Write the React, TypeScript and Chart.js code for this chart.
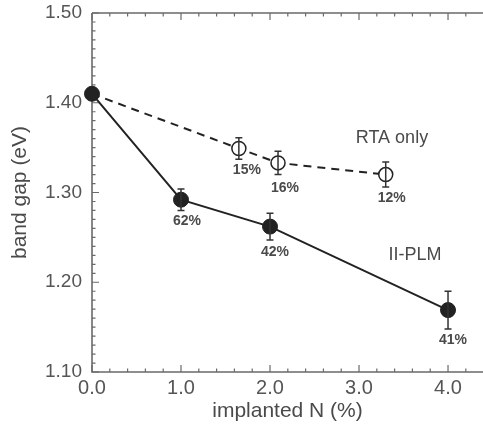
import React, { useEffect, useRef } from "react";
import { Chart, registerables } from "chart.js";

Chart.register(...registerables);

// ---- data ----
const plmN = [0, 1.0, 2.0, 4.0];
const plmGap = [1.41, 1.292, 1.262, 1.169];
const plmErr = [0, 0.012, 0.015, 0.021];
const plmPct = ["", "62%", "42%", "41%"];

const rtaN = [0, 1.65, 2.09, 3.3];
const rtaGap = [1.41, 1.349, 1.333, 1.32];
const rtaErr = [0, 0.012, 0.013, 0.014];
const rtaPct = ["", "15%", "16%", "12%"];

const xTickValues = [0, 1, 2, 3, 4];
const yTickValues = [1.1, 1.2, 1.3, 1.4, 1.5];

const seriesNames = ["II-PLM", "RTA only"];
const seriesNameAt = [
  [3.63, 1.23],
  [3.37, 1.361],
];

// ---- styles ----
const plmLabelOffsets = [
  [0, 0],
  [6, 21],
  [5, 26],
  [5, 30],
];
const rtaLabelOffsets = [
  [0, 0],
  [8, 22],
  [7, 25],
  [6, 24],
];

const FONT = "'Liberation Sans', Arial, Helvetica, sans-serif";
const AXIS_COLOR = "#6a6a6a";
const TEXT_COLOR = "#4a4a4a";
const MARK_COLOR = "#222222";

const zeroPad = (s: any) => {
  s.paddingLeft = 0;
  s.paddingRight = 0;
  s.paddingTop = 0;
  s.paddingBottom = 0;
};

const framePlugin = {
  id: "frame",
  beforeDatasetsDraw(chart: any) {
    const { ctx, chartArea, scales } = chart;
    const { left, right, top, bottom } = chartArea;
    const xs = scales.x;
    const ys = scales.y;
    ctx.save();
    ctx.strokeStyle = AXIS_COLOR;
    ctx.lineWidth = 1.6;
    ctx.beginPath();
    ctx.moveTo(left, top);
    ctx.lineTo(right + 2, top);
    ctx.moveTo(left, top);
    ctx.lineTo(left, bottom);
    ctx.lineTo(right + 2, bottom);
    ctx.stroke();

    ctx.lineWidth = 1.2;
    ctx.beginPath();
    for (let i = 0; i <= 22; i++) {
      const v = i * 0.2;
      if (v > xs.max) break;
      const px = xs.getPixelForValue(v);
      const len = i % 5 === 0 ? 7 : 3.5;
      ctx.moveTo(px, bottom);
      ctx.lineTo(px, bottom - len);
      ctx.moveTo(px, top);
      ctx.lineTo(px, top + len);
    }
    for (let i = 0; i <= 40; i++) {
      const v = 1.1 + i * 0.01;
      const py = ys.getPixelForValue(v);
      const len = i % 10 === 0 ? 7 : 3.5;
      ctx.moveTo(left, py);
      ctx.lineTo(left + len, py);
    }
    ctx.stroke();
    ctx.restore();
  },
  afterDatasetsDraw(chart: any) {
    const { ctx, scales } = chart;
    const xs = scales.x;
    const ys = scales.y;
    ctx.save();
    ctx.strokeStyle = "#333";
    ctx.lineWidth = 1.5;
    const drawErr = (xsArr: number[], yArr: number[], eArr: number[]) => {
      for (let i = 0; i < xsArr.length; i++) {
        if (!eArr[i]) continue;
        const px = xs.getPixelForValue(xsArr[i]);
        const pt = ys.getPixelForValue(yArr[i] + eArr[i]);
        const pb = ys.getPixelForValue(yArr[i] - eArr[i]);
        ctx.beginPath();
        ctx.moveTo(px, pt);
        ctx.lineTo(px, pb);
        ctx.moveTo(px - 3.5, pt);
        ctx.lineTo(px + 3.5, pt);
        ctx.moveTo(px - 3.5, pb);
        ctx.lineTo(px + 3.5, pb);
        ctx.stroke();
      }
    };
    drawErr(plmN, plmGap, plmErr);
    drawErr(rtaN, rtaGap, rtaErr);

    ctx.fillStyle = TEXT_COLOR;
    ctx.font = `bold 14px ${FONT}`;
    ctx.textAlign = "center";
    ctx.textBaseline = "middle";
    const drawPct = (xsArr: number[], yArr: number[], labels: string[], offs: number[][]) => {
      for (let i = 0; i < xsArr.length; i++) {
        if (!labels[i]) continue;
        const px = xs.getPixelForValue(xsArr[i]);
        const py = ys.getPixelForValue(yArr[i]);
        ctx.fillText(labels[i], px + offs[i][0], py + offs[i][1]);
      }
    };
    drawPct(plmN, plmGap, plmPct, plmLabelOffsets);
    drawPct(rtaN, rtaGap, rtaPct, rtaLabelOffsets);

    ctx.font = `18px ${FONT}`;
    for (let i = 0; i < seriesNames.length; i++) {
      ctx.fillText(
        seriesNames[i],
        xs.getPixelForValue(seriesNameAt[i][0]),
        ys.getPixelForValue(seriesNameAt[i][1])
      );
    }
    ctx.restore();
  },
};

export default function App() {
  const canvasRef = useRef<HTMLCanvasElement | null>(null);

  useEffect(() => {
    document.body.style.margin = "0";
    const canvas = canvasRef.current;
    if (!canvas) return;
    Chart.defaults.font.family = FONT;

    const chart = new Chart(canvas, {
      type: "scatter",
      data: {
        datasets: [
          {
            label: seriesNames[0],
            data: plmN.map((x, i) => ({ x, y: plmGap[i] })),
            showLine: true,
            borderColor: MARK_COLOR,
            borderWidth: 2,
            pointRadius: 7.5,
            pointBackgroundColor: MARK_COLOR,
            pointBorderColor: MARK_COLOR,
            pointBorderWidth: 1,
            clip: false,
            order: 1,
          } as any,
          {
            label: seriesNames[1],
            data: rtaN.map((x, i) => ({ x, y: rtaGap[i] })),
            showLine: true,
            borderColor: MARK_COLOR,
            borderWidth: 2,
            borderDash: [8, 6],
            pointRadius: rtaN.map((_, i) => (i === 0 ? 0 : 7)),
            pointBackgroundColor: "#ffffff",
            pointBorderColor: MARK_COLOR,
            pointBorderWidth: 1.5,
            clip: false,
            order: 2,
          } as any,
        ],
      },
      options: {
        animation: false,
        responsive: true,
        maintainAspectRatio: false,
        layout: { autoPadding: false, padding: { top: 13, left: 0, right: 0, bottom: 0 } },
        plugins: {
          legend: { display: false },
          tooltip: { enabled: false },
        },
        scales: {
          x: {
            type: "linear",
            min: 0,
            max: 4.393,
            afterBuildTicks: (s: any) => {
              s.ticks = xTickValues.map((v) => ({ value: v }));
            },
            afterFit: (s: any) => {
              s.height = 58;
              zeroPad(s);
            },
            grid: { display: false, drawTicks: false },
            border: { display: false },
            ticks: {
              color: "#555",
              font: { size: 20, family: FONT },
              padding: 4,
              maxRotation: 0,
              callback: (v: any) => Number(v).toFixed(1),
            },
            title: {
              display: true,
              text: "implanted N (%)",
              color: TEXT_COLOR,
              font: { size: 21, family: FONT },
              padding: { top: 0, bottom: 6 },
            },
          },
          y: {
            type: "linear",
            min: 1.1,
            max: 1.5,
            afterBuildTicks: (s: any) => {
              s.ticks = yTickValues.map((v) => ({ value: v }));
            },
            afterFit: (s: any) => {
              s.width = 92;
              zeroPad(s);
            },
            grid: { display: false, drawTicks: false },
            border: { display: false },
            ticks: {
              color: "#555",
              font: { size: 19, family: FONT },
              padding: 10,
              callback: (v: any) => Number(v).toFixed(2),
            },
            title: {
              display: true,
              text: "band gap (eV)",
              color: TEXT_COLOR,
              font: { size: 21, family: FONT },
              padding: { top: 8, bottom: 0 },
            },
          },
        },
      },
      plugins: [framePlugin],
    });
    return () => chart.destroy();
  }, []);

  return (
    <div style={{ width: 483, height: 430, position: "relative" }}>
      <canvas ref={canvasRef} />
    </div>
  );
}
